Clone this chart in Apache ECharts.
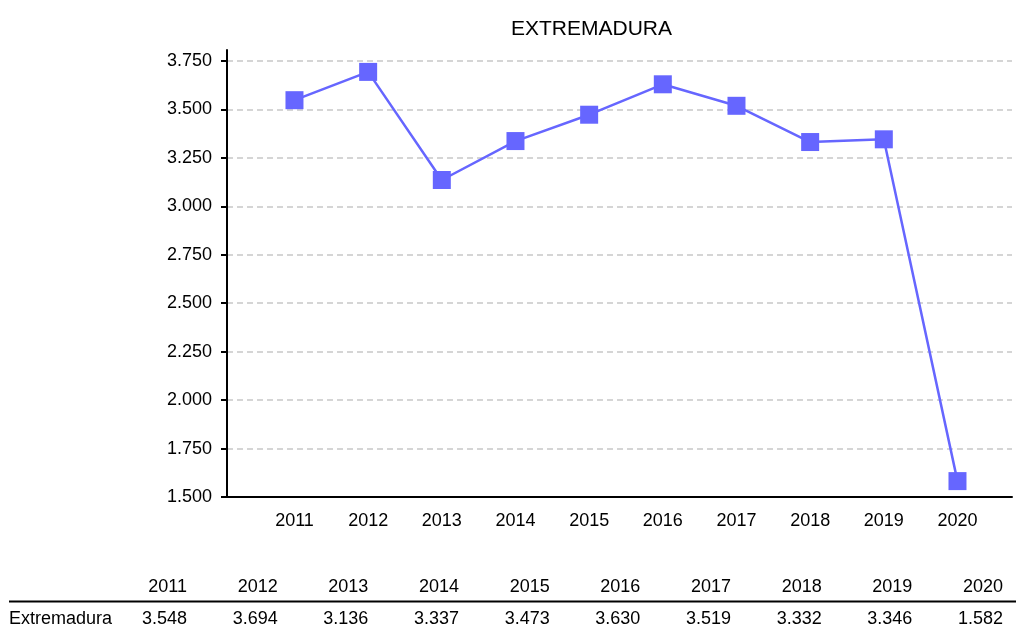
<!DOCTYPE html>
<html>
<head>
    <meta charset="utf-8">
    <title>EXTREMADURA</title>
    <script src="https://cdn.jsdelivr.net/npm/echarts@6/dist/echarts.min.js"></script>
    <style>
        html, body { margin: 0; padding: 0; background: #fff; }
        #mychart { width: 1016px; height: 638px; }
    </style>
</head>
<body>
<div id="mychart"></div>
<script>
    // datos
    var years = [2011, 2012, 2013, 2014, 2015, 2016, 2017, 2018, 2019, 2020];
    var values = [3.548, 3.694, 3.136, 3.337, 3.473, 3.630, 3.519, 3.332, 3.346, 1.582];
    var yTicks = [1.5, 1.75, 2.0, 2.25, 2.5, 2.75, 3.0, 3.25, 3.5, 3.75];
    var seriesName = 'Extremadura';
    var title = 'EXTREMADURA';

    var font = '"Liberation Sans", Arial, sans-serif';

    var points = [];
    for (var i = 0; i < years.length; i++) {
        points.push([years[i], values[i]]);
    }

    // tabla de abajo
    var tableItems = [];
    tableItems.push({
        type: 'line',
        shape: {x1: 9, y1: 601.5, x2: 1016, y2: 601.5},
        style: {stroke: '#000', lineWidth: 2}
    });
    tableItems.push({
        type: 'text',
        x: 9, y: 619,
        style: {text: seriesName, font: '18px ' + font, fill: '#000', textAlign: 'left', textVerticalAlign: 'middle'}
    });
    for (var j = 0; j < years.length; j++) {
        var rx = 187 + j * 90.67;
        tableItems.push({
            type: 'text',
            x: rx, y: 587,
            style: {text: String(years[j]), font: '18px ' + font, fill: '#000', textAlign: 'right', textVerticalAlign: 'middle'}
        });
        tableItems.push({
            type: 'text',
            x: rx, y: 619,
            style: {text: values[j].toFixed(3), font: '18px ' + font, fill: '#000', textAlign: 'right', textVerticalAlign: 'middle'}
        });
    }

    var myChart = echarts.init(document.getElementById('mychart'));
    var option = {
        animation: false,
        backgroundColor: '#fff',
        title: {
            text: title,
            left: 506,
            top: 14,
            textStyle: {fontFamily: font, fontSize: 21, fontWeight: 'normal', color: '#000'}
        },
        grid: {
            left: 227,
            right: 4,
            top: 50,
            bottom: 141,
            containLabel: false
        },
        xAxis: {
            type: 'value',
            min: 2010.084,
            max: 2020.74,
            axisLine: {show: true, onZero: false, lineStyle: {color: '#000', width: 2}},
            axisTick: {show: false},
            splitLine: {show: false},
            axisLabel: {
                customValues: years,
                margin: 15,
                fontFamily: font,
                fontSize: 18,
                color: '#000',
                formatter: function (v) { return String(v); }
            }
        },
        yAxis: {
            type: 'value',
            min: 1.5,
            max: 3.807,
            axisLine: {show: true, lineStyle: {color: '#000', width: 2}},
            axisTick: {show: true, customValues: yTicks, length: 6, lineStyle: {color: '#000', width: 2}},
            splitLine: {show: true, lineStyle: {color: '#c8c8c8', width: 1.5, type: [6, 4]}},
            axisLabel: {
                customValues: yTicks,
                margin: 15,
                fontFamily: font,
                fontSize: 18,
                color: '#000',
                formatter: function (v) { return v.toFixed(3); }
            }
        },
        series: [
            {
                name: seriesName,
                type: 'line',
                data: points,
                symbol: 'rect',
                symbolSize: 18,
                itemStyle: {color: '#6666ff'},
                lineStyle: {color: '#6666ff', width: 2.5}
            }
        ],
        graphic: tableItems
    };
    myChart.setOption(option);
</script>
</body>
</html>
